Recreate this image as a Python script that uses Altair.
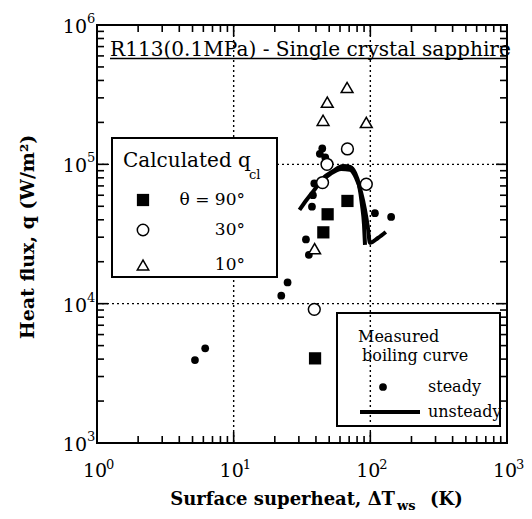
import altair as alt
import pandas as pd

W, H = 410, 418

# ---- data ----
sq_x = [68.0, 48.7, 45.3, 39.4]
sq_q = [54600, 43800, 32500, 4050]
circ_x = [68.0, 48.2, 44.7, 93.4, 38.9]
circ_q = [129000, 100000, 74000, 72000, 9100]
tri_x = [67.6, 48.4, 45.1, 93.4, 39.1]
tri_q = [356000, 279000, 207000, 200000, 24800]
dot_x = [44.5, 42.7, 46.8, 38.9, 38.0, 37.4, 108, 142, 33.8, 35.5, 24.8, 22.3, 6.19, 5.21]
dot_q = [130000, 119000, 112000, 73000, 60000, 49700, 44600, 41900, 28900, 22400, 14200, 11400, 4780, 3940]
c1_x = [30.3, 34.1, 38.9, 45.3, 53.5, 63.2, 71.1, 77.3, 82.6, 86.9, 89.9, 91.4]
c1_q = [47100, 55500, 65500, 79800, 89700, 97400, 95800, 86800, 71200, 51100, 36700, 26400]
c2_x = [43.1, 50.9, 61.2, 71.1, 78.6, 85.5, 91.4, 96.1, 99.3, 113.6, 129.8]
c2_q = [74800, 85300, 92700, 91200, 79800, 63400, 47100, 34900, 27300, 29600, 32700]

x_major = [1, 10, 100, 1000]
y_major = [1e3, 1e4, 1e5, 1e6]
x_minor = [m * d for d in [1, 10, 100] for m in range(2, 10)]
y_minor = [m * d for d in [1e3, 1e4, 1e5] for m in range(2, 10)]
x_exp = ["0", "1", "2", "3"]
y_exp = ["3", "4", "5", "6"]
grid_x = [10, 100]
grid_y = [1e4, 1e5]

title_text = "R113(0.1MPa) - Single crystal sapphire"
leg1_title = "Calculated q"
leg1_sub = "cl"
leg1_rows = ["θ = 90°", "30°", "10°"]
leg2_lines = ["Measured", "boiling curve"]
leg2_rows = ["steady", "unsteady"]
xtitle_main = "Surface  superheat,  ΔT"
xtitle_sub = "ws"
xtitle_end = "(K)"
ytitle = "Heat  flux,  q  (W/m²)"

SERIF = "DejaVu Serif"

xs = alt.Scale(type="log", domain=[1, 1000])
ys = alt.Scale(type="log", domain=[1000, 1e6])


def X(f):
    return alt.X(f"{f}:Q", scale=xs, axis=None)


def Y(f):
    return alt.Y(f"{f}:Q", scale=ys, axis=None)


one = pd.DataFrame({"a": [0]})
layers = []

# grid lines (dotted)
layers.append(alt.Chart(pd.DataFrame({"v": grid_x})).mark_rule(color="black", strokeDash=[2, 3], strokeWidth=1.4)
              .encode(x=X("v"), y=alt.value(0), y2=alt.value(H)))
layers.append(alt.Chart(pd.DataFrame({"v": grid_y})).mark_rule(color="black", strokeDash=[2, 3], strokeWidth=1.4)
              .encode(y=Y("v"), x=alt.value(0), x2=alt.value(W)))

# legend box 1 (white)
layers.append(alt.Chart(one).mark_rect(fill="white", stroke="black", strokeWidth=2)
              .encode(x=alt.value(15), x2=alt.value(180), y=alt.value(113), y2=alt.value(252)))

# inward ticks on all four sides
for vals, L in [(x_major, 11), (x_minor, 7)]:
    d = pd.DataFrame({"v": vals})
    layers.append(alt.Chart(d).mark_rule(color="black", strokeWidth=1.6)
                  .encode(x=X("v"), y=alt.value(H), y2=alt.value(H - L)))
    layers.append(alt.Chart(d).mark_rule(color="black", strokeWidth=1.6)
                  .encode(x=X("v"), y=alt.value(0), y2=alt.value(L)))
for vals, L in [(y_major, 11), (y_minor, 7)]:
    d = pd.DataFrame({"v": vals})
    layers.append(alt.Chart(d).mark_rule(color="black", strokeWidth=1.6)
                  .encode(y=Y("v"), x=alt.value(0), x2=alt.value(L)))
    layers.append(alt.Chart(d).mark_rule(color="black", strokeWidth=1.6)
                  .encode(y=Y("v"), x=alt.value(W), x2=alt.value(W - L)))

# tick labels
xl = pd.DataFrame({"v": x_major, "e": x_exp})
layers.append(alt.Chart(xl).mark_text(font=SERIF, fontSize=19, align="center", baseline="middle", dx=-2)
              .encode(x=X("v"), y=alt.value(446), text=alt.value("10")))
layers.append(alt.Chart(xl).mark_text(font=SERIF, fontSize=13, align="left", baseline="middle", dx=9)
              .encode(x=X("v"), y=alt.value(440), text="e:N"))
yl = pd.DataFrame({"v": y_major, "e": y_exp})
layers.append(alt.Chart(yl).mark_text(font=SERIF, fontSize=19, align="right", baseline="middle", dy=2)
              .encode(y=Y("v"), x=alt.value(-10), text=alt.value("10")))
layers.append(alt.Chart(yl).mark_text(font=SERIF, fontSize=13, align="left", baseline="middle", dy=-6)
              .encode(y=Y("v"), x=alt.value(-10), text="e:N"))

# unsteady curves
curves = pd.DataFrame({
    "x": c1_x + c2_x,
    "q": c1_q + c2_q,
    "c": ["a"] * len(c1_x) + ["b"] * len(c2_x),
    "i": list(range(len(c1_x))) + list(range(len(c2_x))),
})
layers.append(alt.Chart(curves).mark_line(color="black", strokeWidth=4, interpolate="monotone")
              .encode(x=X("x"), y=Y("q"), detail="c:N", order="i:Q"))

# steady dots
layers.append(alt.Chart(pd.DataFrame({"x": dot_x, "q": dot_q})).mark_circle(color="black", opacity=1, size=60)
              .encode(x=X("x"), y=Y("q")))
# calculated
layers.append(alt.Chart(pd.DataFrame({"x": sq_x, "q": sq_q})).mark_point(shape="square", filled=True, color="black", opacity=1, size=150)
              .encode(x=X("x"), y=Y("q")))
layers.append(alt.Chart(pd.DataFrame({"x": circ_x, "q": circ_q})).mark_point(shape="circle", fill="white", stroke="black", strokeWidth=1.5, opacity=1, size=140)
              .encode(x=X("x"), y=Y("q")))
layers.append(alt.Chart(pd.DataFrame({"x": tri_x, "q": tri_q})).mark_point(shape="triangle-up", fill="white", stroke="black", strokeWidth=1.5, opacity=1, size=140)
              .encode(x=X("x"), y=Y("q")))

# title with underline
layers.append(alt.Chart(one).mark_text(font=SERIF, fontSize=20.1, align="left", baseline="alphabetic")
              .encode(x=alt.value(13), y=alt.value(31), text=alt.value(title_text)))
layers.append(alt.Chart(one).mark_rule(color="black", strokeWidth=1.3)
              .encode(x=alt.value(13), x2=alt.value(409), y=alt.value(33.5)))

# legend 1 content
layers.append(alt.Chart(one).mark_text(font=SERIF, fontSize=20, align="left", baseline="middle")
              .encode(x=alt.value(26), y=alt.value(136), text=alt.value(leg1_title)))
layers.append(alt.Chart(one).mark_text(font=SERIF, fontSize=13, align="left", baseline="middle")
              .encode(x=alt.value(152), y=alt.value(150), text=alt.value(leg1_sub)))
layers.append(alt.Chart(one).mark_point(shape="square", filled=True, color="black", opacity=1, size=150)
              .encode(x=alt.value(46), y=alt.value(175)))
layers.append(alt.Chart(one).mark_point(shape="circle", fill="white", stroke="black", strokeWidth=1.5, opacity=1, size=130)
              .encode(x=alt.value(46), y=alt.value(205)))
layers.append(alt.Chart(one).mark_point(shape="triangle-up", fill="white", stroke="black", strokeWidth=1.5, opacity=1, size=130)
              .encode(x=alt.value(46), y=alt.value(240)))
for txt, yy in zip(leg1_rows, [175, 205, 240]):
    layers.append(alt.Chart(one).mark_text(font=SERIF, fontSize=17, align="right", baseline="middle")
                  .encode(x=alt.value(148), y=alt.value(yy), text=alt.value(txt)))

# legend 2
layers.append(alt.Chart(one).mark_rect(fill=None, stroke="black", strokeWidth=2, fillOpacity=0)
              .encode(x=alt.value(240), x2=alt.value(403), y=alt.value(288), y2=alt.value(401)))
for txt, xx, yy in zip(leg2_lines, [261, 265], [312, 331]):
    layers.append(alt.Chart(one).mark_text(font=SERIF, fontSize=16, align="left", baseline="middle")
                  .encode(x=alt.value(xx), y=alt.value(yy), text=alt.value(txt)))
for txt, yy in zip(leg2_rows, [362, 387]):
    layers.append(alt.Chart(one).mark_text(font=SERIF, fontSize=16, align="left", baseline="middle")
                  .encode(x=alt.value(331), y=alt.value(yy), text=alt.value(txt)))
layers.append(alt.Chart(one).mark_circle(color="black", opacity=1, size=60)
              .encode(x=alt.value(286), y=alt.value(362)))
layers.append(alt.Chart(one).mark_rule(color="black", strokeWidth=4)
              .encode(x=alt.value(263), x2=alt.value(323), y=alt.value(387)))

# axis titles
layers.append(alt.Chart(one).mark_text(font=SERIF, fontSize=18, fontWeight="bold", align="right", baseline="middle")
              .encode(x=alt.value(298), y=alt.value(475), text=alt.value(xtitle_main)))
layers.append(alt.Chart(one).mark_text(font=SERIF, fontSize=13, fontWeight="bold", align="left", baseline="middle")
              .encode(x=alt.value(300), y=alt.value(481), text=alt.value(xtitle_sub)))
layers.append(alt.Chart(one).mark_text(font=SERIF, fontSize=18, fontWeight="bold", align="left", baseline="middle")
              .encode(x=alt.value(333), y=alt.value(475), text=alt.value(xtitle_end)))
layers.append(alt.Chart(one).mark_text(font=SERIF, fontSize=19, fontWeight="bold", align="center", baseline="middle", angle=270)
              .encode(x=alt.value(-69), y=alt.value(212), text=alt.value(ytitle)))

chart = alt.layer(*layers).properties(
    width=W, height=H,
    padding={"left": 89, "top": 17, "right": 17, "bottom": 78},
    autosize=alt.AutoSizeParams(type="none"),
).configure_view(stroke="black", strokeWidth=2)

chart.save("out.html", embed_options={"renderer": "svg", "actions": False})
